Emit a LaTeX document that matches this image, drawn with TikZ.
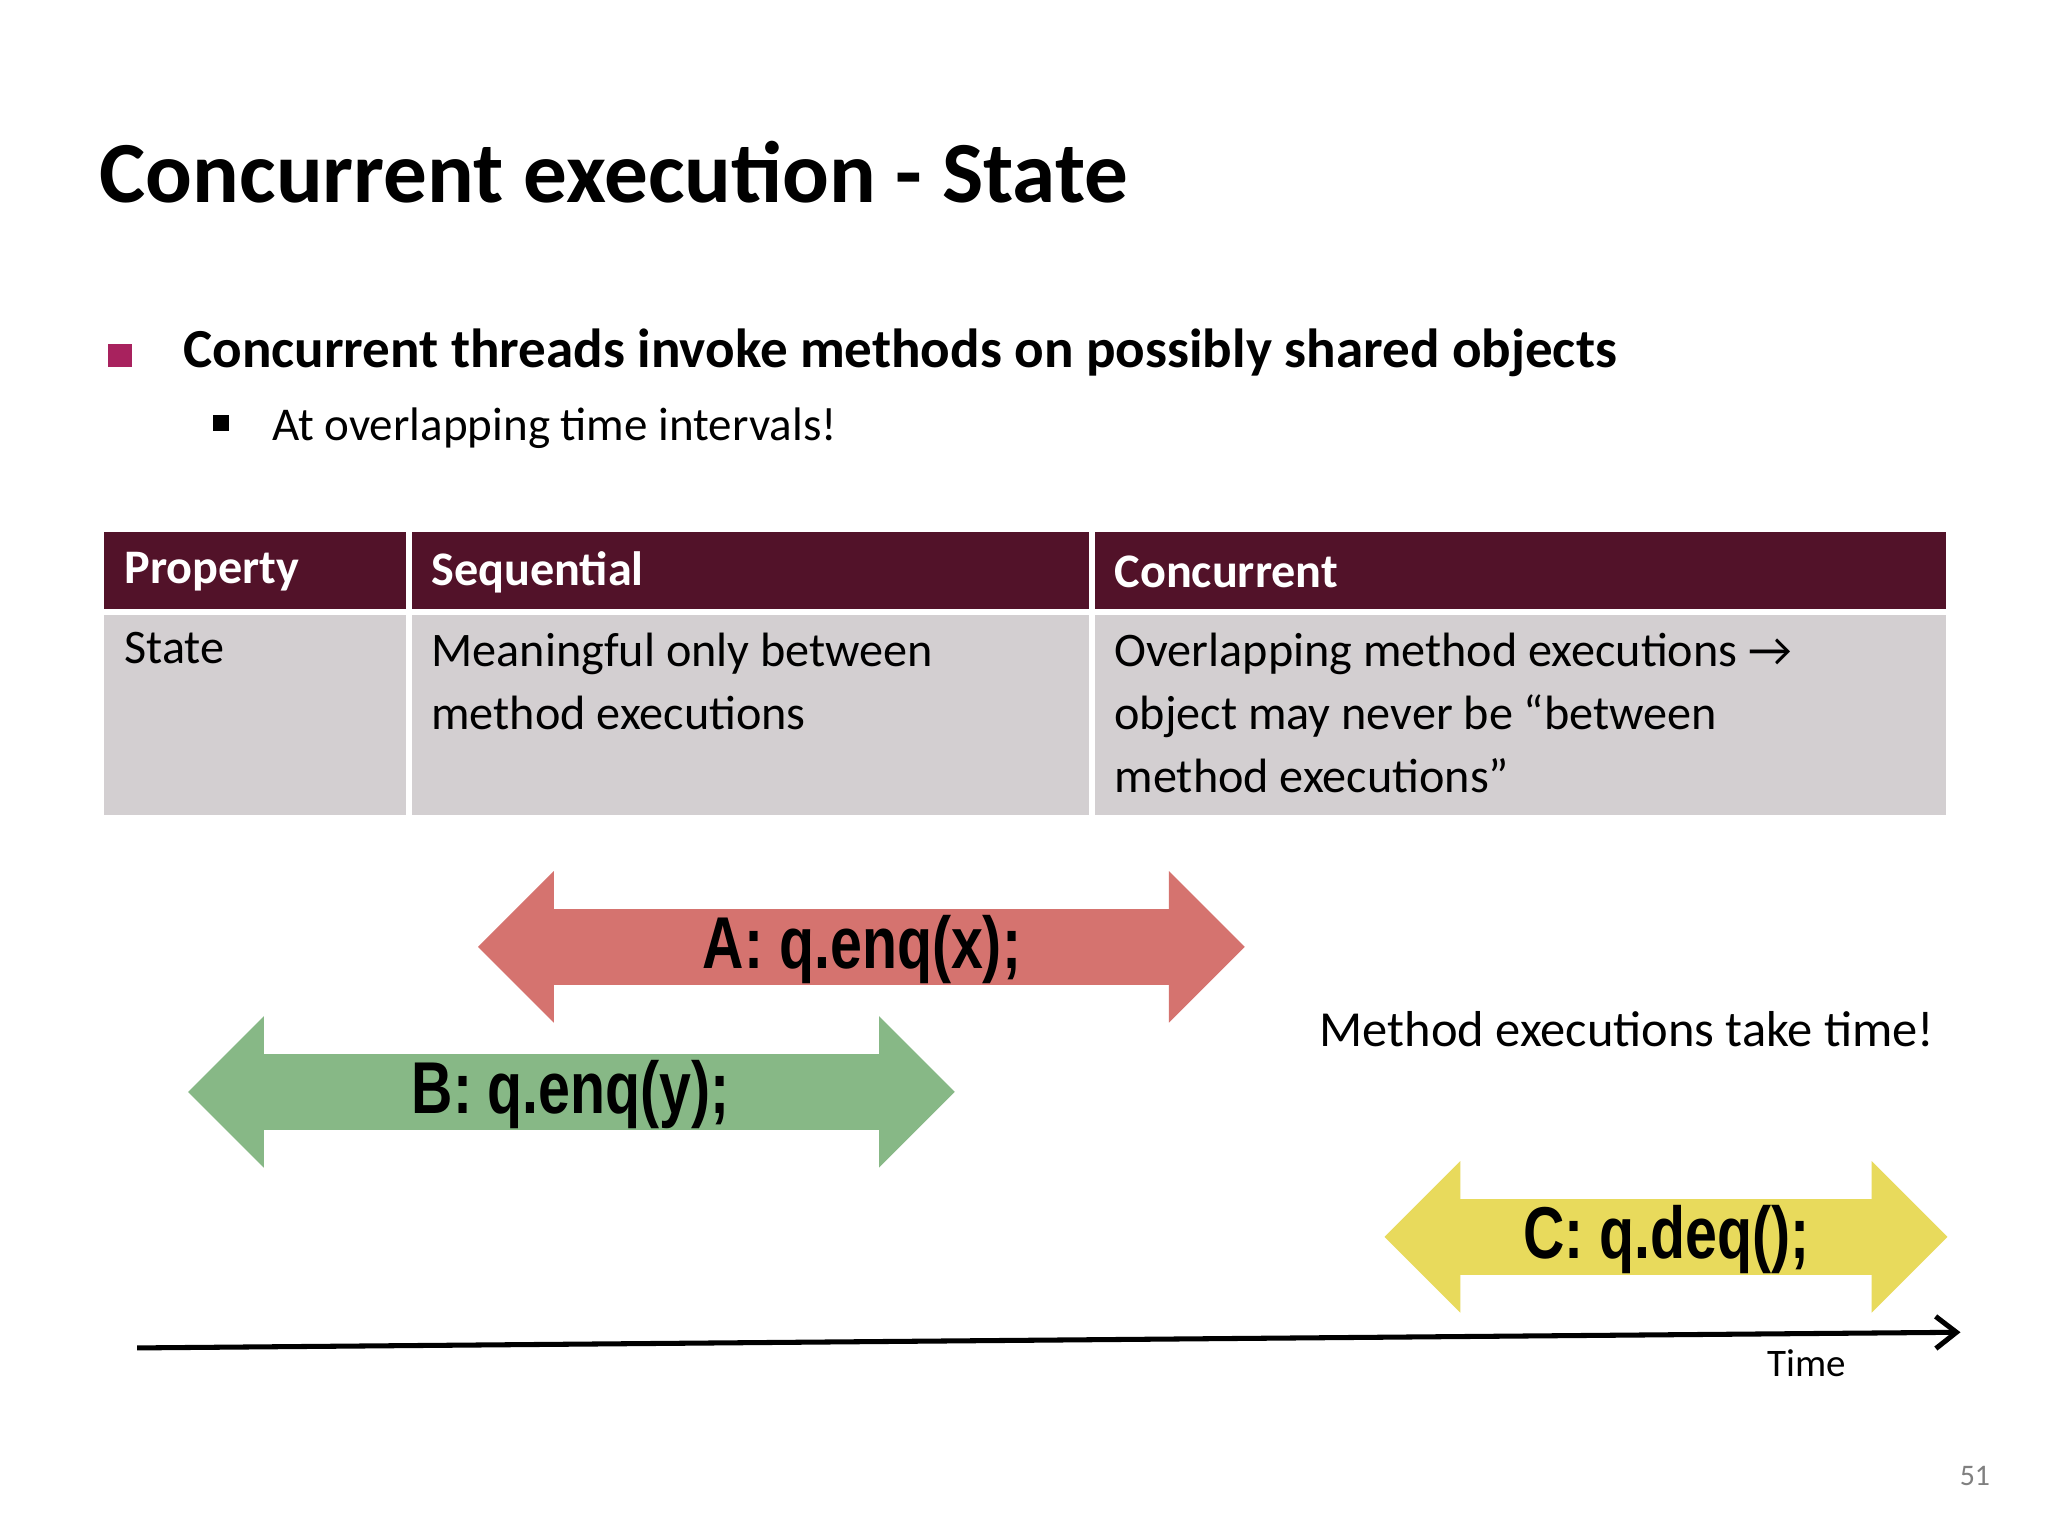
\documentclass[tikz,border=0pt]{standalone}
\usepackage{fontspec}
\setmainfont{Carlito}
\newfontfamily\narrow[FakeStretch=0.78]{Liberation Sans}
\usetikzlibrary{arrows.meta}
\definecolor{hdr}{HTML}{521229}
\definecolor{cellbg}{HTML}{D3CFD1}
\definecolor{bulc}{HTML}{A8225E}
\definecolor{ca}{HTML}{D5736F}
\definecolor{cb}{HTML}{87B886}
\definecolor{cc}{HTML}{E8DA5C}
\tikzset{
  txt/.style={anchor=west,inner sep=0pt},
  hdtxt/.style={txt,text=white,font=\fontsize{21}{25}\selectfont\bfseries},
  celltxt/.style={anchor=north west,inner sep=0pt,align=left,font=\fontsize{21}{27.5}\selectfont},
  lbl/.style={inner sep=0pt,font=\narrow\bfseries\fontsize{32}{36}\selectfont},
}
\newcommand{\dblarrow}[5]{% x1 x2 ycenter color name
  \fill[#4] (#1,#3) -- (#1+58,#3-58) -- (#1+58,#3-29) -- (#2-58,#3-29) -- (#2-58,#3-58) -- (#2,#3) -- (#2-58,#3+58) -- (#2-58,#3+29) -- (#1+58,#3+29) -- (#1+58,#3+58) -- cycle;
  \coordinate (#5) at ({(#1+#2)/2},#3);}
\begin{document}
\begin{tikzpicture}[x=0.02cm,y=-0.02cm]
\useasboundingbox[fill=white] (0,0) rectangle (1568,1176);
\node[txt,font=\fontsize{38}{44}\selectfont\bfseries] (title) at (76,132) {Concurrent execution - State};
\fill[bulc] (83,263) rectangle (101,281);
\node[txt,font=\fontsize{24}{28}\selectfont\bfseries] (b1) at (140,270) {Concurrent threads invoke methods on possibly shared objects};
\fill[black] (163,318) rectangle (175,330);
\node[txt,font=\fontsize{20.5}{24}\selectfont] (b2) at (208,328) {At overlapping time intervals!};
% table
\fill[hdr] (80,407) rectangle (1490,466);
\fill[cellbg] (80,471) rectangle (1490,624);
\draw[white,line width=2.5pt] (313,405) -- (313,626) (836,405) -- (836,626);
\node[hdtxt] (h1) at (95,438) {Property};
\node[hdtxt] (h2) at (330,438) {Sequential};
\node[hdtxt] (h3) at (853,438) {Concurrent};
\node[celltxt] (c1) at (95,484) {State};
\node[celltxt] (c2) at (330,484) {Meaningful only between\\method executions};
\node[celltxt] (c3) at (853,484) {Overlapping method executions \char"2192\\object may never be “between\\method executions”};
% arrows
\dblarrow{366}{953}{725}{ca}{pa}
\dblarrow{144}{731}{836}{cb}{pb}
\dblarrow{1060}{1491}{947}{cc}{pc}
\node[lbl] (la) at (660,727) {A: q.enq(x);};
\node[lbl] (lb) at (437,838) {B: q.enq(y);};
\node[lbl] (lc) at (1276,949) {C: q.deq();};
\node[txt,font=\fontsize{22}{26}\selectfont] (m) at (1010,788) {Method executions take time!};
% timeline
\coordinate (t0) at (105,1032);
\coordinate (t1) at (1501,1020);
\draw[line width=2.2pt,-{Straight Barb[length=9pt,width=14pt]}] (t0) -- (t1);
\node[font=\fontsize{17}{20}\selectfont,inner sep=0pt] (time) at (1383,1044) {Time};
\node[font=\fontsize{13}{16}\selectfont,text=gray,inner sep=0pt] (pg) at (1512,1130) {51};
\end{tikzpicture}
\end{document}
